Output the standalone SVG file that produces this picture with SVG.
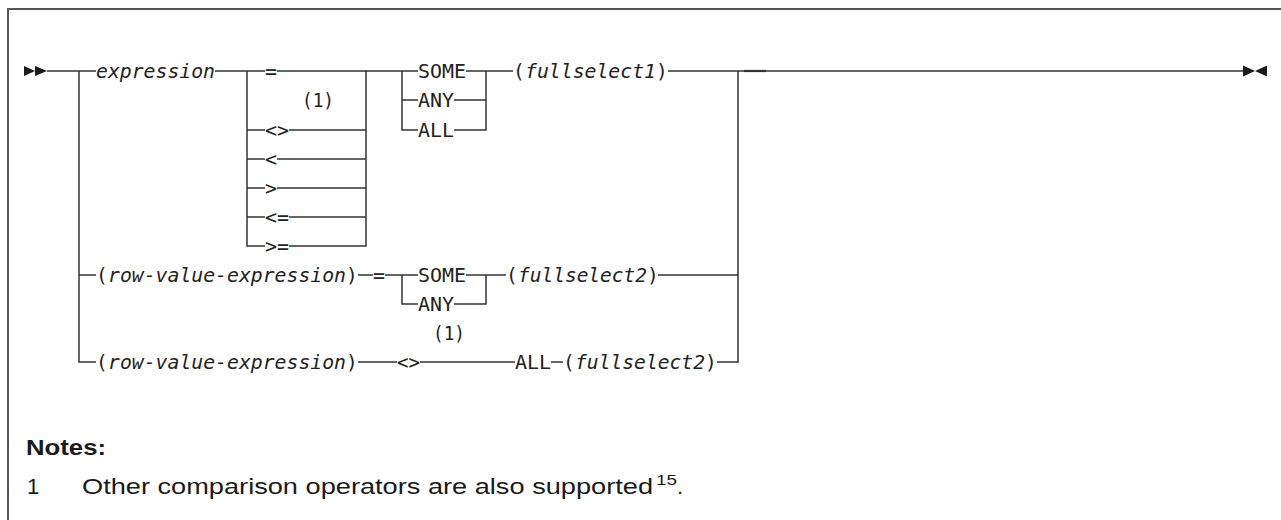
<svg xmlns="http://www.w3.org/2000/svg" width="1281" height="520" viewBox="0 0 1281 520">
<style>
.ln{stroke:#333;stroke-width:1.5;fill:none}
.fr{stroke:#555;stroke-width:2;fill:none}
.ar{fill:#1a1a1a}
.t{font-family:"DejaVu Sans Mono","Liberation Mono",monospace;font-size:19.5px;fill:#222}
.i{font-style:italic}
.n{font-family:"Liberation Sans",Arial,sans-serif;font-size:22px;fill:#1a1a1a}
.b{font-weight:bold}
</style>
<rect width="1281" height="520" fill="#fff"/>
<g id="frame"><path class="fr" d="M8,520 V9 H1281"/></g>
<g id="connectors">
<path class="ln" d="M47,71 H96"/>
<path class="ln" d="M79,71 V362 H96"/>
<path class="ln" d="M79,275 H96"/>
<path class="ln" d="M215,71 H265"/>
<path class="ln" d="M247,71 V246 H265"/>
<path class="ln" d="M247,130 H265 M247,159 H265 M247,188 H265 M247,217 H265"/>
<path class="ln" d="M277,71 H366 V246 H289"/>
<path class="ln" d="M289,130 H366 M277,159 H366 M277,188 H366 M289,217 H366"/>
<path class="ln" d="M366,71 H418"/>
<path class="ln" d="M402,71 V130 H418 M402,100 H418"/>
<path class="ln" d="M466,71 H513"/>
<path class="ln" d="M486,71 V130 H454 M454,100 H486"/>
<path class="ln" d="M668,71 H1243"/>
<path class="ln" style="stroke-width:2.2" d="M744,71 H766"/>
<path class="ln" d="M738,71 V362 H717"/>
<path class="ln" d="M358,275 H373 M385,275 H418"/>
<path class="ln" d="M402,275 V304 H418"/>
<path class="ln" d="M466,275 H506"/>
<path class="ln" d="M486,275 V304 H454"/>
<path class="ln" d="M658,275 H738"/>
<path class="ln" d="M358,362 H397 M420,362 H515 M551,362 H563"/>
</g>
<g id="start"><polygon class="ar" points="24,66 35,71 24,76"/><polygon class="ar" points="35,66 47,71 35,76"/></g>
<g id="end"><polygon class="ar" points="1243,65.5 1255,71 1243,76.5"/><polygon class="ar" points="1267,65.5 1255,71 1267,76.5"/></g>
<g id="expression"><text class="t i" x="96" y="77.5" textLength="119" lengthAdjust="spacingAndGlyphs">expression</text></g>
<g id="op-eq"><text class="t" x="265" y="77.5" textLength="12" lengthAdjust="spacingAndGlyphs">=</text></g>
<g id="note-ref-1"><text class="t" x="302" y="106.5" textLength="32" lengthAdjust="spacingAndGlyphs">(1)</text></g>
<g id="op-ne"><text class="t" x="265" y="136.5" textLength="24" lengthAdjust="spacingAndGlyphs">&lt;&gt;</text></g>
<g id="op-lt"><text class="t" x="265" y="165.5" textLength="12" lengthAdjust="spacingAndGlyphs">&lt;</text></g>
<g id="op-gt"><text class="t" x="265" y="194.5" textLength="12" lengthAdjust="spacingAndGlyphs">&gt;</text></g>
<g id="op-le"><text class="t" x="265" y="223.5" textLength="24" lengthAdjust="spacingAndGlyphs">&lt;=</text></g>
<g id="op-ge"><text class="t" x="265" y="252.5" textLength="24" lengthAdjust="spacingAndGlyphs">&gt;=</text></g>
<g id="some1"><text class="t" x="418" y="77.5" textLength="48" lengthAdjust="spacingAndGlyphs">SOME</text></g>
<g id="any1"><text class="t" x="418" y="106.5" textLength="36" lengthAdjust="spacingAndGlyphs">ANY</text></g>
<g id="all1"><text class="t" x="418" y="136.5" textLength="36" lengthAdjust="spacingAndGlyphs">ALL</text></g>
<g id="fullselect1">
<text class="t" x="513" y="77.5">(</text>
<text class="t i" x="525" y="77.5" textLength="131" lengthAdjust="spacingAndGlyphs">fullselect1</text>
<text class="t" x="656" y="77.5">)</text>
</g>
<g id="rve1">
<text class="t" x="96" y="281.5">(</text>
<text class="t i" x="108" y="281.5" textLength="238" lengthAdjust="spacingAndGlyphs">row-value-expression</text>
<text class="t" x="346" y="281.5">)</text>
</g>
<g id="op-eq2"><text class="t" x="373" y="281.5" textLength="12" lengthAdjust="spacingAndGlyphs">=</text></g>
<g id="some2"><text class="t" x="418" y="281.5" textLength="48" lengthAdjust="spacingAndGlyphs">SOME</text></g>
<g id="any2"><text class="t" x="418" y="310.5" textLength="36" lengthAdjust="spacingAndGlyphs">ANY</text></g>
<g id="fullselect2a">
<text class="t" x="506" y="281.5">(</text>
<text class="t i" x="518" y="281.5" textLength="129" lengthAdjust="spacingAndGlyphs">fullselect2</text>
<text class="t" x="647" y="281.5">)</text>
</g>
<g id="note-ref-2"><text class="t" x="433" y="339.5" textLength="32" lengthAdjust="spacingAndGlyphs">(1)</text></g>
<g id="rve2">
<text class="t" x="96" y="368.5">(</text>
<text class="t i" x="108" y="368.5" textLength="238" lengthAdjust="spacingAndGlyphs">row-value-expression</text>
<text class="t" x="346" y="368.5">)</text>
</g>
<g id="op-ne2"><text class="t" x="397" y="368.5" textLength="23" lengthAdjust="spacingAndGlyphs">&lt;&gt;</text></g>
<g id="all2"><text class="t" x="515" y="368.5" textLength="36" lengthAdjust="spacingAndGlyphs">ALL</text></g>
<g id="fullselect2b">
<text class="t" x="563" y="368.5">(</text>
<text class="t i" x="575" y="368.5" textLength="130" lengthAdjust="spacingAndGlyphs">fullselect2</text>
<text class="t" x="705" y="368.5">)</text>
</g>
<g id="notes">
<text class="n b" x="26" y="455" textLength="80" lengthAdjust="spacingAndGlyphs">Notes:</text>
<text class="n" x="27" y="494">1</text>
<text class="n" x="82" y="494" textLength="571" lengthAdjust="spacingAndGlyphs">Other comparison operators are also supported</text>
<text class="n" x="656" y="485" style="font-size:15px" textLength="21" lengthAdjust="spacingAndGlyphs">15</text>
<text class="n" x="677" y="494">.</text>
</g>
</svg>
